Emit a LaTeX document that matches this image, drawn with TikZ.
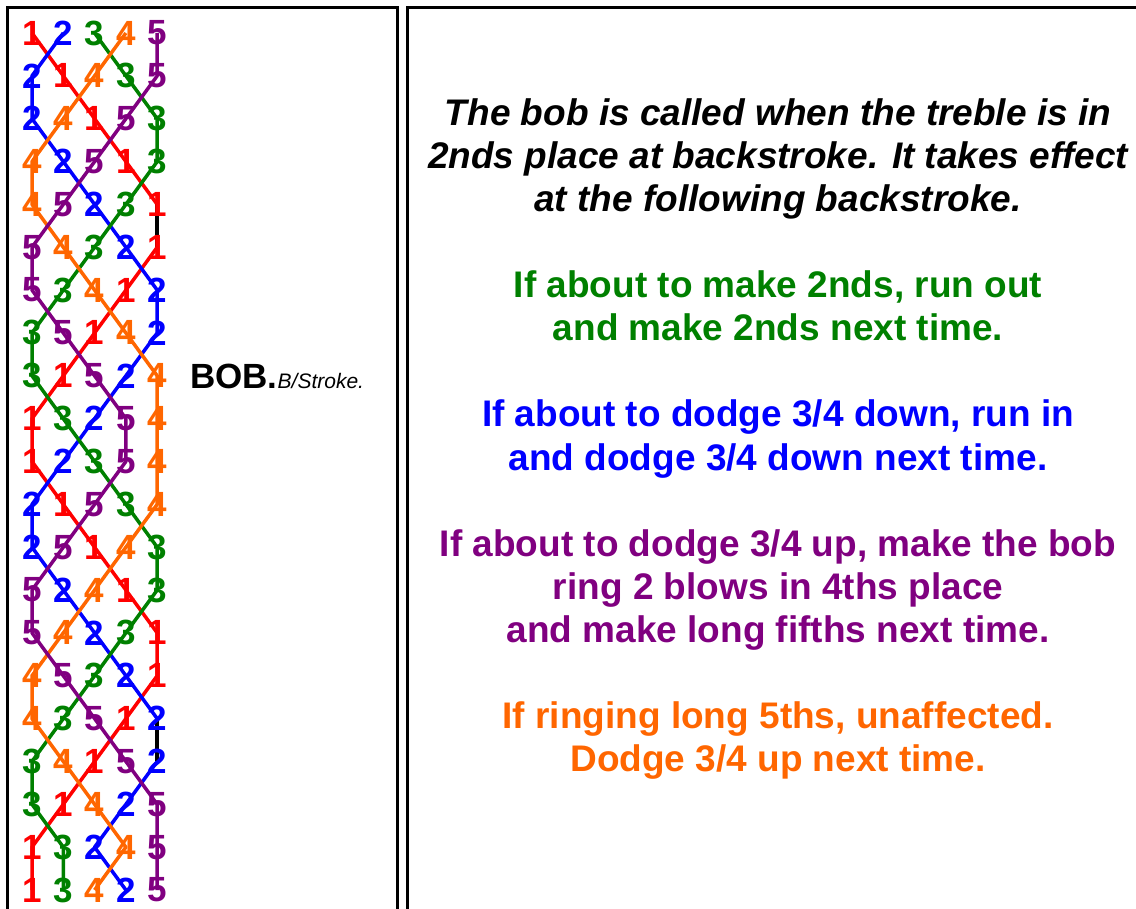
\documentclass[tikz,border=0pt]{standalone}
\usepackage{fontspec}
\setmainfont{Liberation Sans}
\pgfdeclarelayer{bg}
\pgfsetlayers{bg,main}
\definecolor{bellA}{RGB}{255,0,0}
\definecolor{bellB}{RGB}{0,0,255}
\definecolor{bellC}{RGB}{0,128,0}
\definecolor{bellD}{RGB}{255,102,0}
\definecolor{bellE}{RGB}{128,0,128}
\begin{document}
\begin{tikzpicture}[x=1pt,y=-1pt,
  digit/.style={inner sep=0pt, font=\fontsize{35}{35}\selectfont\bfseries},
  bellline/.style={line width=3.5pt, line join=round},
  panel/.style={draw=black, line width=3pt},
  txt/.style={anchor=base, inner sep=0pt, font=\fontsize{37}{43}\selectfont\bfseries}]
\useasboundingbox (0,0) rectangle (1136,909);
% panels
\draw[panel] (7,960) -- (7,8) -- (397,8) -- (397,960);
\draw[panel] (407.5,960) -- (407.5,8) -- (1160,8) -- (1160,960);
% digits
\foreach \r/\row in {1/{1,2,3,4,5},2/{2,1,4,3,5},3/{2,4,1,5,3},4/{4,2,5,1,3},5/{4,5,2,3,1},
  6/{5,4,3,2,1},7/{5,3,4,1,2},8/{3,5,1,4,2},9/{3,1,5,2,4},10/{1,3,2,5,4},11/{1,2,3,5,4},
  12/{2,1,5,3,4},13/{2,5,1,4,3},14/{5,2,4,1,3},15/{5,4,2,3,1},16/{4,5,3,2,1},17/{4,3,5,1,2},
  18/{3,4,1,5,2},19/{3,1,4,2,5},20/{1,3,2,4,5},21/{1,3,4,2,5}}{
  \foreach \b [count=\c] in \row {
    \ifcase\b\or\def\bc{bellA}\or\def\bc{bellB}\or\def\bc{bellC}\or\def\bc{bellD}\or\def\bc{bellE}\fi
    \node[digit, text=\bc] (d-\r-\c) at ({32+(\c-1)*31.3},{33+(\r-1)*42.85}) {\b};
  }
}
% lines
\begin{pgfonlayer}{bg}
\foreach \bc/\first/\rest in {
  bellA/1/{2,3,4,5,5,4,3,2,1,1,2,3,4,5,5,4,3,2,1,1},
  bellB/2/{1,1,2,3,4,5,5,4,3,2,1,1,2,3,4,5,5,4,3,4},
  bellC/3/{4,5,5,4,3,2,1,1,2,3,4,5,5,4,3,2,1,1,2,2},
  bellD/4/{3,2,1,1,2,3,4,5,5,5,5,4,3,2,1,1,2,3,4,3},
  bellE/5/{5,4,3,2,1,1,2,3,4,4,3,2,1,1,2,3,4,5,5,5}}{
  \draw[bellline, draw=\bc] (d-1-\first.center) \foreach \p [count=\r from 2] in \rest {-- (d-\r-\p.center)};
}
\draw[bellline, draw=black] (d-5-5.center) -- (d-6-5.center);
\draw[bellline, draw=black] (d-17-5.center) -- (d-18-5.center);
\end{pgfonlayer}
% bob label
\node[anchor=base west, inner sep=0pt] (bob) at (190,389)
  {\fontsize{35}{35}\selectfont\bfseries BOB.\fontsize{21}{21}\selectfont\mdseries\itshape B/Stroke.};
% text
\node[txt, font=\fontsize{37}{43}\selectfont\bfseries\itshape] (t1) at (778,126) {The bob is called when the treble is in};
\node[txt, font=\fontsize{37}{43}\selectfont\bfseries\itshape] (t2) at (778,169) {2nds place at backstroke. It takes effect};
\node[txt, font=\fontsize{37}{43}\selectfont\bfseries\itshape] (t3) at (778,212) {at the following backstroke.};
\node[txt, text=bellC] (t4) at (778,298) {If about to make 2nds, run out};
\node[txt, text=bellC] (t5) at (778,341) {and make 2nds next time.};
\node[txt, text=bellB] (t6) at (778,427) {If about to dodge 3/4 down, run in};
\node[txt, text=bellB] (t7) at (778,470) {and dodge 3/4 down next time.};
\node[txt, text=bellE] (t8) at (778,556) {If about to dodge 3/4 up, make the bob};
\node[txt, text=bellE] (t9) at (778,599) {ring 2 blows in 4ths place};
\node[txt, text=bellE] (t10) at (778,642) {and make long fifths next time.};
\node[txt, text=bellD] (t11) at (778,728) {If ringing long 5ths, unaffected.};
\node[txt, text=bellD] (t12) at (778,771) {Dodge 3/4 up next time.};
\end{tikzpicture}
\end{document}
